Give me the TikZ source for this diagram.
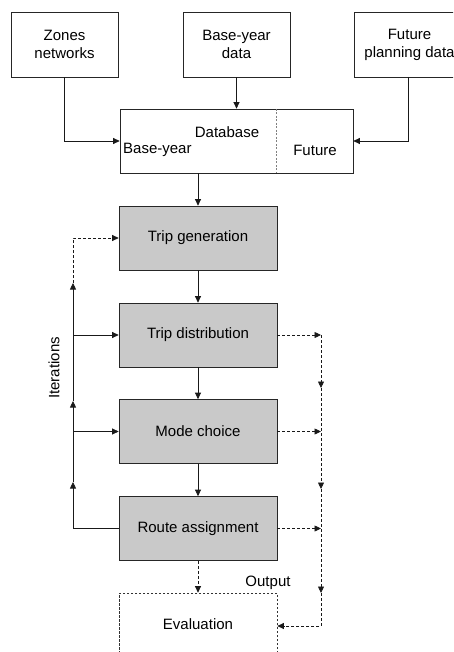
\documentclass[tikz,border=0pt]{standalone}
\usepackage{fontspec}
\setmainfont{Liberation Sans}
\usetikzlibrary{arrows.meta}
\begin{document}
\begin{tikzpicture}[x=1pt,y=-1pt,
  every node/.style={font=\fontsize{15}{18}\selectfont, inner sep=0pt},
  topbox/.style={draw=black!85, line width=0.7pt, minimum width=107pt, minimum height=65pt, align=center},
  stagebox/.style={draw=black!85, line width=0.7pt, fill=black!21, minimum width=158pt, minimum height=64pt},
  evalbox/.style={draw=black!80, line width=0.7pt, dash pattern=on 2.5pt off 1.5pt, minimum width=158pt, minimum height=66pt},
  line/.style={draw=black!90, line width=0.7pt},
  arr/.style={line, -{Triangle[length=6.5pt,width=6pt]}},
  darr/.style={arr, dash pattern=on 3pt off 2pt},
  dline/.style={line, dash pattern=on 3pt off 2pt}]
\useasboundingbox (0,0) rectangle (453,652);
\clip (0,0) rectangle (453,652);
% top boxes
\node[topbox] (zones) at (64.5,44.5) {Zones\\networks};
\node[topbox] (basedata) at (236.5,44.5) {Base-year\\data};
\node[align=center, minimum width=108pt, minimum height=65pt] (future) at (409.5,44.5) {Future\\planning data};
\draw[draw=black!85, line width=0.7pt] (354,12) rectangle (470,77);
% database
\node[draw=black!85, line width=0.7pt, minimum width=233pt, minimum height=64pt] (db) at (236.5,141) {};
\draw[draw=black!50, line width=0.7pt, dash pattern=on 2pt off 1.5pt] (276,109) -- (276,173);
\node (dbt) at (227,132) {Database};
\node[anchor=west] (dbb) at (123,150) {Base-year};
\node (dbf) at (315,150) {Future};
% stages
\node[stagebox] (gen) at (198,238) {Trip generation};
\node[stagebox] (dist) at (198,335) {Trip distribution};
\node[stagebox] (mode) at (198,431.5) {Mode choice};
\node[stagebox] (route) at (198,528.5) {Route assignment};
\node[evalbox] (eval) at (198,626) {};
\node (evt) at (198,624) {Evaluation};
% input connectors
\draw[arr] (zones.south) |- (db.west);
\draw[arr] (basedata.south) -- (db.north);
\draw[arr] (408,77) |- (db.east);
\draw[arr] (gen.north |- db.south) -- (gen.north);
\draw[arr] (gen) -- (dist);
\draw[arr] (dist) -- (mode);
\draw[arr] (mode) -- (route);
% left iteration loop
\coordinate (lA) at (73,482);
\coordinate (lB) at (73,401);
\coordinate (lC) at (73,283);
\draw[arr] (route.west) -| (lA);
\draw[arr] (lA) -- (lB);
\draw[line] (lB) -- (73,335);
\draw[arr] (73,335) -- (lC);
\draw[darr] (lC) |- (gen.west);
\draw[arr] (mode.west -| lA) -- (mode.west);
\draw[arr] (dist.west -| lA) -- (dist.west);
\node[rotate=90] (iter) at (54,368) {Iterations};
% right output path
\coordinate (rT) at (321,335);
\coordinate (rA) at (321,388);
\coordinate (rB) at (321,489);
\coordinate (rC) at (321,593);
\draw[darr] (dist.east) -- (rT);
\draw[darr] (mode.east) -- (mode.east -| rT);
\draw[darr] (route.east) -- (route.east -| rT);
\draw[darr] (rT) -- (rA);
\draw[darr] (rA) -- (rB);
\draw[darr] (rB) -- (rC);
\draw[darr] (rC) |- (eval.east);
\draw[darr] (route.south) -- (eval.north);
\node (out) at (268,583) {Output};
\end{tikzpicture}
\end{document}
